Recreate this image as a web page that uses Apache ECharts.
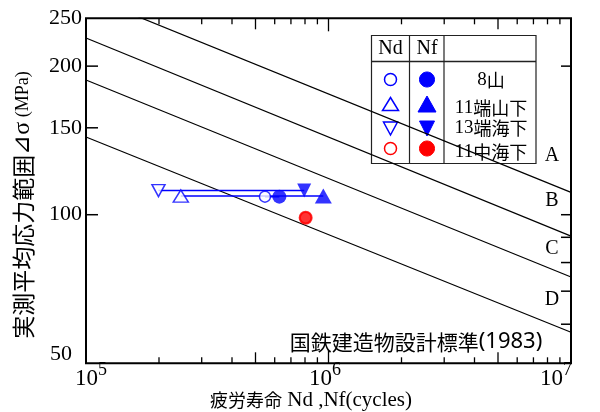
<!DOCTYPE html>
<html>
<head>
<meta charset="utf-8">
<script src="https://cdn.jsdelivr.net/npm/echarts@6/dist/echarts.min.js"></script>
<style>
  html, body { margin: 0; padding: 0; background: #fff; }
  #chart { width: 600px; height: 412px; }
</style>
</head>
<body>
<div id="chart"></div>
<script>
// Fatigue test results: measured mean stress range against fatigue life
const specimens   = ['8山', '11端山下', '13端海下', '11中海下'];
const stressRange = [108.8, 109.1, 111.9, 98.6];        // MPa
const lifeNd      = [5.47e5, 2.46e5, 1.99e5, 8.05e5];   // cycles (Nd)
const lifeNf      = [6.27e5, 9.52e5, 7.94e5, 8.05e5];   // cycles (Nf)

// Design S-N curves A-D: stress range at 1e5 and at 1e7 cycles
const curveNames = ['A', 'B', 'C', 'D'];
const curveLife  = [1e5, 1e7];
const curveLow   = [278, 228, 187.5, 143.7];
const curveHigh  = [111, 90.5, 74.8, 57.8];

// Axis ticks
const xMajorTicks = [1e5, 1e6, 1e7];
const xExponents  = ['5', '6', '7'];
const xHalfTicks  = [5e5, 5e6];
const xMinorTicks = [2e5, 3e5, 4e5, 6e5, 7e5, 8e5, 9e5, 2e6, 3e6, 4e6, 6e6, 7e6, 8e6, 9e6];
const yTickLabels = [250, 200, 150, 100, 50];
const yLeftTicks  = [200, 150, 100];
const yRightTicks = [200, 100, 90, 80, 70, 60];

const SERIF = '"Liberation Serif", "Times New Roman", serif';
const CJK = '"Noto Sans CJK JP", "Noto Sans", sans-serif';
const BLUE = '#0000ff', RED = '#ff0000';
const markerColor = [BLUE, BLUE, BLUE, RED];
const markerShape = ['circle', 'triangle', 'triangle', 'circle'];
const markerRotate = [0, 0, 180, 0];
const openSize = [[11, 11], [15, 12], [13, 12], [11, 11]];
const fillSize = [[14, 14], [17, 15], [14, 14], [14, 14]];

const X_MIN = 1e5, X_MAX = 1e7, Y_MIN = 50, Y_MAX = 250;

const series = [];

// S-N curves
curveNames.forEach((name, i) => {
  series.push({
    type: 'line', name: 'curve' + name, silent: true, symbol: 'none', z: 3,
    lineStyle: { color: '#000', width: 1.2 },
    data: [[curveLife[0], curveLow[i]], [curveLife[1], curveHigh[i]]]
  });
});

// Nd - Nf connecting segments
specimens.forEach((s, i) => {
  series.push({
    type: 'line', name: s + '-link', silent: true, symbol: 'none', z: 4,
    lineStyle: { color: markerColor[i], width: 1.5 },
    data: [[lifeNd[i], stressRange[i]], [lifeNf[i], stressRange[i]]]
  });
});

// Open markers (Nd) and filled markers (Nf)
specimens.forEach((s, i) => {
  series.push({
    type: 'scatter', name: s + '-Nd', z: 5,
    symbol: markerShape[i], symbolRotate: markerRotate[i], symbolSize: openSize[i],
    itemStyle: { color: '#fff', borderColor: markerColor[i], borderWidth: 1.5 },
    data: [[lifeNd[i], stressRange[i]]]
  });
});
specimens.forEach((s, i) => {
  series.push({
    type: 'scatter', name: s + '-Nf', z: 6,
    symbol: markerShape[i], symbolRotate: markerRotate[i], symbolSize: fillSize[i],
    itemStyle: { color: markerColor[i] },
    data: [[lifeNf[i], stressRange[i]]]
  });
});

// Inward tick marks on all four sides
function xTickSeries(ticks, len) {
  return {
    type: 'custom', silent: true, z: 8, clip: false,
    data: ticks.map(v => [v, Y_MIN]),
    renderItem: (params, api) => {
      const b = api.coord([api.value(0), Y_MIN]);
      const t = api.coord([api.value(0), Y_MAX]);
      const st = { stroke: '#000', lineWidth: 1.3 };
      return { type: 'group', children: [
        { type: 'line', shape: { x1: b[0], y1: b[1], x2: b[0], y2: b[1] - len }, style: st },
        { type: 'line', shape: { x1: t[0], y1: t[1], x2: t[0], y2: t[1] + len }, style: st }
      ]};
    }
  };
}
function yTickSeries(ticks, side, len) {
  return {
    type: 'custom', silent: true, z: 8, clip: false,
    data: ticks.map(v => [X_MIN, v]),
    renderItem: (params, api) => {
      const xv = side === 'left' ? X_MIN : X_MAX;
      const p = api.coord([xv, api.value(1)]);
      const dir = side === 'left' ? 1 : -1;
      return { type: 'line', shape: { x1: p[0], y1: p[1], x2: p[0] + dir * len, y2: p[1] },
               style: { stroke: '#000', lineWidth: 1.5 } };
    }
  };
}
series.push(xTickSeries(xMajorTicks, 13));
series.push(xTickSeries(xHalfTicks, 11));
series.push(xTickSeries(xMinorTicks, 6));
series.push(yTickSeries(yLeftTicks, 'left', 12));
series.push(yTickSeries(yRightTicks, 'right', 10));

// Tick labels: powers of ten on x, plain values on y
const xLabelEdge = [12, 3.5, -8];
series.push({
  type: 'custom', silent: true, z: 9, clip: false,
  data: xMajorTicks.map((v, i) => [v, Y_MIN, i]),
  renderItem: (params, api) => {
    const i = api.value(2);
    const p = api.coord([api.value(0), Y_MIN]);
    const edge = p[0] + xLabelEdge[i];
    return { type: 'group', children: [
      { type: 'text', x: edge, y: p[1] + 16,
        style: { text: '10', fill: '#000', font: '23px ' + SERIF, textAlign: 'right', align: 'right',
                 textVerticalAlign: 'middle', verticalAlign: 'middle' } },
      { type: 'text', x: edge, y: p[1] + 7,
        style: { text: xExponents[i], fill: '#000', font: '18px ' + SERIF, textAlign: 'left', align: 'left',
                 textVerticalAlign: 'middle', verticalAlign: 'middle' } }
    ]};
  }
});
series.push({
  type: 'custom', silent: true, z: 9, clip: false,
  data: yTickLabels.map(v => [X_MIN, v]),
  renderItem: (params, api) => {
    const v = api.value(1);
    const p = api.coord([X_MIN, v]);
    const atBottom = v === Y_MIN;
    return { type: 'text', x: p[0] - (atBottom ? 14 : 4), y: p[1] - (atBottom ? 9 : 0),
      style: { text: String(v), fill: '#000', font: '22px ' + SERIF, textAlign: 'right', align: 'right',
               textVerticalAlign: 'middle', verticalAlign: 'middle' } };
  }
});

// Legend table
function legendMark(shape, rot, cx, cy, w, h, filled, color) {
  const style = filled ? { fill: color, stroke: color, lineWidth: 1 }
                       : { fill: '#fff', stroke: color, lineWidth: 1.5 };
  if (shape === 'circle') {
    return { type: 'ellipse', shape: { cx, cy, rx: w / 2, ry: h / 2 }, style };
  }
  const up = rot === 0;
  const pts = up ? [[cx, cy - h / 2], [cx + w / 2, cy + h / 2], [cx - w / 2, cy + h / 2]]
                 : [[cx, cy + h / 2], [cx + w / 2, cy - h / 2], [cx - w / 2, cy - h / 2]];
  return { type: 'polygon', shape: { points: pts }, style };
}
const legendRowsY = [79.5, 104, 128.5, 148.5];
const legendTextY = [80, 108, 128, 152];
const legendEls = [
  { type: 'rect', shape: { x: 371.5, y: 35.5, width: 164.5, height: 128 },
    style: { fill: '#fff', stroke: '#222', lineWidth: 1.2 } },
  { type: 'line', shape: { x1: 409.5, y1: 35.5, x2: 409.5, y2: 163.5 }, style: { stroke: '#222', lineWidth: 1.2 } },
  { type: 'line', shape: { x1: 444, y1: 35.5, x2: 444, y2: 163.5 }, style: { stroke: '#222', lineWidth: 1.2 } },
  { type: 'line', shape: { x1: 371.5, y1: 61.5, x2: 536, y2: 61.5 }, style: { stroke: '#222', lineWidth: 1.6 } },
  { type: 'text', x: 390.5, y: 48.5, style: { text: 'Nd', font: '20px ' + SERIF, fill: '#000',
      textAlign: 'center', align: 'center', textVerticalAlign: 'middle', verticalAlign: 'middle' } },
  { type: 'text', x: 427, y: 48.5, style: { text: 'Nf', font: '20px ' + SERIF, fill: '#000',
      textAlign: 'center', align: 'center', textVerticalAlign: 'middle', verticalAlign: 'middle' } }
];
specimens.forEach((s, i) => {
  const o = openSize[i], f = fillSize[i];
  legendEls.push(legendMark(markerShape[i], markerRotate[i], 390.5, legendRowsY[i], o[0] + 1, o[1] + 1, false, markerColor[i]));
  legendEls.push(legendMark(markerShape[i], markerRotate[i], 427, legendRowsY[i], f[0] + 1, f[1] + 1, true, markerColor[i]));
  const m = s.match(/^(\d+)(.*)$/);
  legendEls.push({ type: 'text', x: 491, y: legendTextY[i], style: {
    text: '{d|' + m[1] + '}{c|' + m[2] + '}', fill: '#000',
    rich: { d: { font: '19px ' + SERIF }, c: { font: '18px ' + CJK } },
    textAlign: 'center', align: 'center', textVerticalAlign: 'middle', verticalAlign: 'middle' } });
});

// Curve names near the right edge
const curveLabelPos = [[552, 156], [552, 201], [552, 249], [552, 300]];
const curveLabels = curveNames.map((n, i) => ({
  type: 'text', x: curveLabelPos[i][0], y: curveLabelPos[i][1],
  style: { text: n, font: '20px ' + SERIF, fill: '#000',
           textAlign: 'center', align: 'center', textVerticalAlign: 'middle', verticalAlign: 'middle' }
}));

const chart = echarts.init(document.getElementById('chart'), null, { renderer: 'canvas' });
chart.setOption({
  animation: false,
  backgroundColor: '#fff',
  grid: { left: 86, right: 29, top: 18.3, bottom: 48.7, show: true, borderColor: '#000', borderWidth: 2,
          backgroundColor: 'transparent', z: 7 },
  xAxis: { type: 'log', logBase: 10, min: X_MIN, max: X_MAX,
           axisLine: { show: false }, axisTick: { show: false }, axisLabel: { show: false }, splitLine: { show: false } },
  yAxis: { type: 'log', logBase: 10, min: Y_MIN, max: Y_MAX,
           axisLine: { show: false }, axisTick: { show: false }, axisLabel: { show: false }, splitLine: { show: false } },
  series: series,
  graphic: [
    { type: 'group', z: 20, children: legendEls },
    { type: 'group', z: 20, children: curveLabels },
    { type: 'text', z: 20, x: 416, y: 342, style: {
        text: '{c|国鉄建造物設計標準}{d|(1983)}', fill: '#000',
        rich: { c: { font: '21px ' + CJK }, d: { font: '22px "Noto Sans", sans-serif' } },
        textAlign: 'center', align: 'center', textVerticalAlign: 'middle', verticalAlign: 'middle' } },
    { type: 'text', z: 20, x: 311, y: 400, style: {
        text: '{c|疲労寿命}{m| Nd ,Nf(cycles)}', fill: '#000',
        rich: { c: { font: '18px ' + CJK }, m: { font: '21px ' + SERIF } },
        textAlign: 'center', align: 'center', textVerticalAlign: 'middle', verticalAlign: 'middle' } },
    { type: 'text', z: 20, x: 23, y: 205, rotation: Math.PI / 2, style: {
        text: '{c|実測平均応力範囲}{g|⊿σ}{m| (MPa)}', fill: '#000',
        rich: { c: { font: '23px ' + CJK }, g: { font: '24px ' + SERIF }, m: { font: '18px ' + SERIF } },
        textAlign: 'center', align: 'center', textVerticalAlign: 'middle', verticalAlign: 'middle' } }
  ]
});
</script>
</body>
</html>
